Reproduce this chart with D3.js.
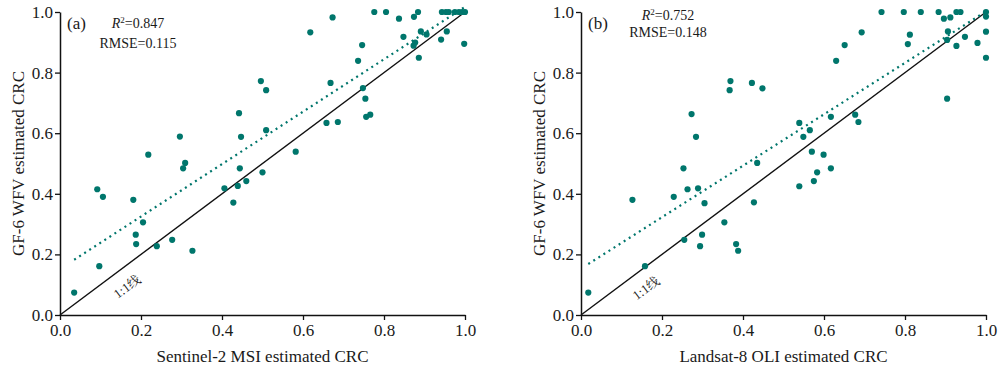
<!DOCTYPE html>
<html>
<head>
<meta charset="utf-8">
<script src="https://cdn.jsdelivr.net/npm/d3@7"></script>
<style>
  html, body { margin: 0; padding: 0; background: #fff; }
  svg { display: block; }
  text { font-family: "Liberation Serif", "Times New Roman", "Noto Serif CJK SC", "Noto Sans CJK SC", serif; fill: #1a1a1a; }
</style>
</head>
<body>
<svg id="chart" width="1000" height="368"></svg>
<script>
// ---------- data ----------
const panelLabels = ["(a)", "(b)"];
const xTitles = ["Sentinel-2 MSI estimated CRC", "Landsat-8 OLI estimated CRC"];
const yTitle = "GF-6 WFV estimated CRC";
const r2Values = ["0.847", "0.752"];
const rmseValues = ["0.115", "0.148"];
const tickValues = [0.0, 0.2, 0.4, 0.6, 0.8, 1.0];
const lineLabel = "1:1线";

// panel (a): Sentinel-2 MSI (x) vs GF-6 WFV (y)
const sentinelX = [0.035,0.097,0.092,0.106,0.181,0.205,0.187,0.188,0.239,0.277,0.327,0.218,0.296,0.309,0.304,
  0.406,0.428,0.439,0.460,0.444,0.500,0.442,0.447,0.509,0.582,0.496,0.509,0.658,0.686,0.668,0.748,0.754,0.756,
  0.766,0.736,0.746,0.618,0.673,0.776,0.805,0.837,0.874,0.884,0.848,0.873,0.877,0.886,0.891,0.905,0.941,0.955,
  0.998,0.943,0.953,0.960,0.975,0.985,0.993,1.000];
const sentinelY = [0.074,0.161,0.415,0.390,0.380,0.306,0.265,0.234,0.227,0.248,0.212,0.529,0.589,0.502,0.484,
  0.418,0.371,0.426,0.442,0.484,0.471,0.666,0.588,0.610,0.539,0.772,0.742,0.634,0.637,0.766,0.749,0.714,0.654,
  0.661,0.839,0.891,0.933,0.982,1.000,1.000,0.978,0.984,1.000,0.918,0.889,0.899,0.849,0.936,0.926,0.909,0.936,
  0.895,1.000,1.000,1.000,1.000,1.000,1.000,1.000];

// panel (b): Landsat-8 OLI (x) vs GF-6 WFV (y)
const landsatX = [0.018,0.158,0.127,0.229,0.263,0.289,0.305,0.354,0.299,0.255,0.294,0.383,0.388,0.253,0.284,
  0.273,0.369,0.367,0.422,0.448,0.435,0.427,0.539,0.575,0.583,0.617,0.599,0.570,0.549,0.565,0.539,0.617,0.677,
  0.685,0.630,0.651,0.693,0.742,0.797,0.839,0.883,0.896,0.912,0.927,0.937,1.000,1.000,0.807,0.812,0.904,0.906,
  0.927,0.948,0.979,1.000,1.000,0.904];
const landsatY = [0.074,0.161,0.380,0.390,0.415,0.418,0.369,0.306,0.265,0.248,0.227,0.234,0.212,0.484,0.588,
  0.663,0.772,0.742,0.766,0.748,0.502,0.372,0.425,0.442,0.471,0.484,0.529,0.539,0.588,0.610,0.634,0.654,0.661,
  0.637,0.839,0.891,0.933,1.000,1.000,1.000,1.000,0.978,0.982,1.000,1.000,1.000,0.985,0.894,0.925,0.908,0.936,
  0.888,0.918,0.898,0.935,0.849,0.714];

// fitted regression lines (slope, intercept, x start, x end)
const fitSlope = [0.865, 0.849];
const fitIntercept = [0.152, 0.153];
const fitXStart = [0.035, 0.018];
const fitXEnd = [1.0, 1.0];

// ---------- drawing ----------
const teal = "#00766c";
const svg = d3.select("#chart");

const panels = [
  { left: 60, right: 465, xs: sentinelX, ys: sentinelY },
  { left: 581, right: 986, xs: landsatX, ys: landsatY }
];
const plotTop = 12, plotBottom = 315;

panels.forEach((p, i) => {
  const x = d3.scaleLinear().domain([0, 1]).range([p.left, p.right]);
  const y = d3.scaleLinear().domain([0, 1]).range([plotBottom, plotTop]);
  const g = svg.append("g");

  // axes
  const xAxis = d3.axisBottom(x).tickValues(tickValues).tickFormat(d3.format(".1f")).tickSize(5).tickSizeOuter(0).tickPadding(4);
  const yAxis = d3.axisLeft(y).tickValues(tickValues).tickFormat(d3.format(".1f")).tickSize(5).tickSizeOuter(0).tickPadding(2);
  const gx = g.append("g").attr("transform", `translate(0,${plotBottom})`).call(xAxis);
  const gy = g.append("g").attr("transform", `translate(${p.left},0)`).call(yAxis);
  [gx, gy].forEach(ax => {
    ax.selectAll("path.domain").attr("stroke", "#111").attr("stroke-width", 1.5);
    ax.selectAll(".tick line").attr("stroke", "#111").attr("stroke-width", 1.3);
    ax.selectAll(".tick text").attr("font-size", 17).attr("fill", "#1a1a1a")
      .style("font-family", '"Liberation Serif", "Times New Roman", serif');
  });

  // 1:1 line
  g.append("line")
    .attr("x1", x(0)).attr("y1", y(0)).attr("x2", x(1)).attr("y2", y(1))
    .attr("stroke", "#111").attr("stroke-width", 1.4);

  // regression line (dotted)
  const fit = [fitXStart[i], fitXEnd[i]].map(v => [v, fitIntercept[i] + fitSlope[i] * v]);
  g.append("path")
    .attr("d", d3.line().x(d => x(d[0])).y(d => y(d[1]))(fit))
    .attr("fill", "none").attr("stroke", teal).attr("stroke-width", 2.2)
    .attr("stroke-dasharray", "2,4");

  // points
  g.append("g").selectAll("circle")
    .data(p.xs.map((v, k) => [v, p.ys[k]]))
    .join("circle")
    .attr("cx", d => x(d[0])).attr("cy", d => y(d[1])).attr("r", 3.1)
    .attr("fill", teal);

  // 1:1 label
  const ang = Math.atan2(y(0) - y(1), x(1) - x(0)) * 180 / Math.PI;
  const lv = i === 0 ? 0.163 : 0.158;
  g.append("text")
    .attr("transform", `translate(${x(lv) + 1},${y(lv) + 21}) rotate(${-ang})`)
    .attr("text-anchor", "middle").attr("dominant-baseline", "central")
    .attr("font-size", 13).attr("fill", "#333")
    .text(lineLabel);

  // axis titles
  g.append("text")
    .attr("x", (p.left + p.right) / 2).attr("y", 362)
    .attr("text-anchor", "middle").attr("font-size", 17)
    .text(xTitles[i]);
  g.append("text")
    .attr("transform", `translate(${p.left - 36},${(plotTop + plotBottom) / 2}) rotate(-90)`)
    .attr("text-anchor", "middle").attr("font-size", 17)
    .text(yTitle);

  // panel label and statistics
  g.append("text").attr("x", p.left + 7).attr("y", 29)
    .attr("font-size", 17).text(panelLabels[i]);

  const statX = i === 0 ? p.left + 78 : p.left + 87;
  const r2Y = i === 0 ? 28 : 20;
  const rmseY = i === 0 ? 48 : 37;
  const t1 = g.append("text").attr("x", statX).attr("y", r2Y).attr("text-anchor", "middle").attr("font-size", 14);
  t1.append("tspan").attr("font-style", "italic").text("R");
  t1.append("tspan").attr("font-size", 9).attr("dy", -5).text("2");
  t1.append("tspan").attr("dy", 5).text("=" + r2Values[i]);
  g.append("text").attr("x", statX).attr("y", rmseY).attr("text-anchor", "middle").attr("font-size", 14)
    .text("RMSE=" + rmseValues[i]);
});
</script>
</body>
</html>
